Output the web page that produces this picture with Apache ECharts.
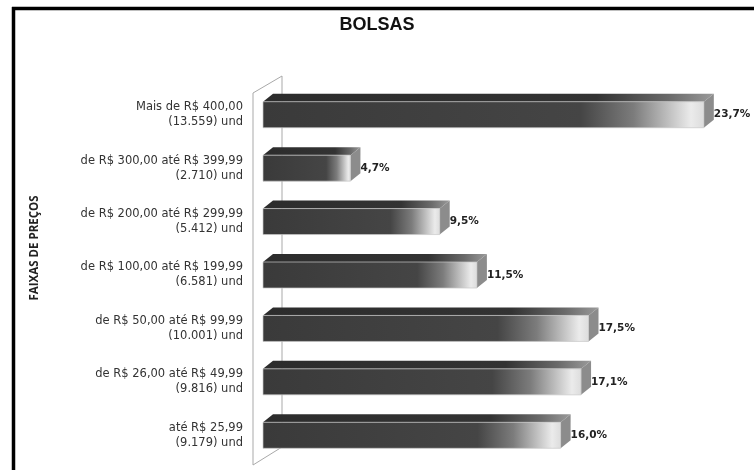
<!DOCTYPE html>
<html>
<head>
<meta charset="utf-8">
<script src="https://cdn.jsdelivr.net/npm/echarts@6/dist/echarts.min.js"></script>
<style>
  html, body { margin: 0; padding: 0; background: #fff; }
  #chart { width: 754px; height: 470px; }
</style>
</head>
<body>
<div id="chart"></div>
<script>
// Price ranges (top to bottom), units sold in each range, and share of units (%)
const faixas = [
  'Mais de R$ 400,00',
  'de R$ 300,00 até R$ 399,99',
  'de R$ 200,00 até R$ 299,99',
  'de R$ 100,00 até R$ 199,99',
  'de R$ 50,00 até R$ 99,99',
  'de R$ 26,00 até R$ 49,99',
  'até R$ 25,99'
];
const unidades = ['13.559', '2.710', '5.412', '6.581', '10.001', '9.816', '9.179'];
const percentuais = [23.7, 4.7, 9.5, 11.5, 17.5, 17.1, 16.0];

const categorias = faixas.map((f, i) => f + '\n(' + unidades[i] + ') und');

// Plot area geometry
const GRID = { left: 263, top: 88, height: 374, right: 26 };
const DEPTH_X = 10, DEPTH_Y = 8, HALF = 13;

const frontFill = {
  type: 'linear', x: 0, y: 0, x2: 1, y2: 0,
  colorStops: [
    { offset: 0, color: '#3a3a3a' },
    { offset: 0.72, color: '#454545' },
    { offset: 0.84, color: '#7c7c7c' },
    { offset: 0.97, color: '#ebebeb' },
    { offset: 1, color: '#dcdcdc' }
  ]
};
const topFill = {
  type: 'linear', x: 0, y: 0, x2: 1, y2: 0,
  colorStops: [
    { offset: 0, color: '#2c2c2c' },
    { offset: 0.74, color: '#333333' },
    { offset: 0.9, color: '#6a6a6a' },
    { offset: 1, color: '#9a9a9a' }
  ]
};

function fmt(v) { return v.toFixed(1).replace('.', ',') + '%'; }

function renderBar(params, api) {
  const v = api.value(0);
  const idx = api.value(1);
  const p0 = api.coord([0, idx]);
  const p1 = api.coord([v, idx]);
  const x0 = p0[0], x1 = p1[0], c = p0[1];
  const yT = c - HALF, yB = c + HALF;
  return {
    type: 'group',
    children: [
      {
        type: 'polygon',
        shape: { points: [[x0, yT], [x0 + DEPTH_X, yT - DEPTH_Y], [x1 + DEPTH_X, yT - DEPTH_Y], [x1, yT]] },
        style: { fill: topFill }
      },
      {
        type: 'polygon',
        shape: { points: [[x1, yT], [x1 + DEPTH_X, yT - DEPTH_Y], [x1 + DEPTH_X, yB - DEPTH_Y], [x1, yB]] },
        style: { fill: '#8c8c8c' }
      },
      {
        type: 'rect',
        shape: { x: x0, y: yT, width: x1 - x0, height: yB - yT },
        style: { fill: frontFill, stroke: 'rgba(200,200,200,0.7)', lineWidth: 1 }
      },
      {
        type: 'text',
        style: {
          text: fmt(v), x: x1 + DEPTH_X, y: c,
          verticalAlign: 'middle', align: 'left',
          font: 'bold 10.5px "DejaVu Sans"', fill: '#222'
        }
      }
    ]
  };
}

const chart = echarts.init(document.getElementById('chart'), null, { renderer: 'canvas' });

chart.setOption({
  backgroundColor: '#fff',
  animation: false,
  title: {
    text: 'BOLSAS', left: 'center', top: 11,
    textStyle: { fontFamily: 'Liberation Sans', fontWeight: 'bold', fontSize: 18, color: '#111' }
  },
  grid: { left: GRID.left, top: GRID.top, height: GRID.height, right: GRID.right },
  xAxis: { type: 'value', min: 0, max: 25, show: false },
  yAxis: {
    type: 'category', data: categorias, inverse: true,
    axisLine: { show: false }, axisTick: { show: false }, splitLine: { show: false },
    axisLabel: {
      margin: 20, fontFamily: 'DejaVu Sans', fontSize: 11.5, lineHeight: 15,
      color: '#333', align: 'right'
    }
  },
  graphic: [
    // page frame
    { type: 'line', shape: { x1: 13.5, y1: 7, x2: 13.5, y2: 470 }, style: { stroke: '#000', lineWidth: 3.5 } },
    { type: 'line', shape: { x1: 12, y1: 8.5, x2: 754, y2: 8.5 }, style: { stroke: '#000', lineWidth: 3.5 } },
    // back wall behind the bars
    {
      type: 'polygon', z: -1,
      shape: { points: [
        [GRID.left - 10, GRID.top + 5], [GRID.left + 19, GRID.top - 12],
        [GRID.left + 19, GRID.top + GRID.height - 15], [GRID.left - 10, GRID.top + GRID.height + 3]
      ] },
      style: { fill: 'none', stroke: '#a9a9a9', lineWidth: 1 }
    },
    // vertical axis title
    {
      type: 'text', x: 35, y: 248, rotation: Math.PI / 2,
      style: {
        text: 'FAIXAS DE PREÇOS', align: 'center', verticalAlign: 'middle',
        font: 'bold 11.5px "Liberation Sans Narrow", "Open Sans"', fill: '#222'
      }
    }
  ],
  series: [{
    type: 'custom',
    renderItem: renderBar,
    encode: { x: 0, y: 1 },
    data: percentuais.map((v, i) => [v, i])
  }]
});
</script>
</body>
</html>
